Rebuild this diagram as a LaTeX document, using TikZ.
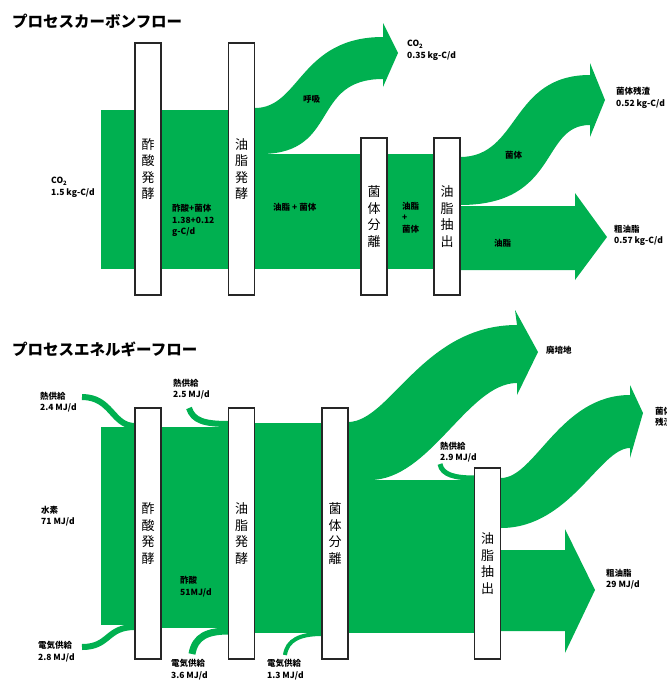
\documentclass[tikz,border=0pt]{standalone}
\usepackage{fontspec}
\setmainfont{Noto Sans CJK JP}
\definecolor{flowgreen}{RGB}{0,176,80}

\begin{document}
\begin{tikzpicture}[x=1pt, y=-1pt,
  flow/.style={fill=flowgreen, draw=none},
  feed/.style={draw=flowgreen, line width=#1},
  procbox/.style={draw=black!85, line width=1.2pt, fill=white, minimum width=26pt,
    inner sep=0pt, align=center, font=\fontsize{13}{16.5}\selectfont},
  lbl/.style={anchor=north west, inner sep=0pt, align=left,
    font=\bfseries\fontsize{8.5}{11.5}\selectfont},
  ttl/.style={anchor=north west, inner sep=0pt, font=\bfseries\fontsize{15.5}{18}\selectfont}]
		%%%%% START %%%%%
		\useasboundingbox (0,0) rectangle (667,681);
		
		%%%%% carbon flow %%%%%
		\node[ttl] (ttlC) at (12,14) {プロセスカーボンフロー};
		
		\fill[flow] (101,110) rectangle (256,269);
		\fill[flow] (250,108) -- (255,108) .. controls (300,108) and (300,37) .. (383,37)
		  -- (383,23) -- (398,53) -- (383,87) -- (383,79)
		  .. controls (310,79) and (340,153) .. (262,154) -- (250,154) -- cycle;
		\fill[flow] (250,154) rectangle (436,269);
		
		\fill[flow] (455,157) -- (460,157) .. controls (520,157) and (510,75) .. (590,75)
		  -- (590,63) -- (605,100) -- (590,137) -- (590,125)
		  .. controls (540,125) and (560,205) .. (460,205) -- (455,205) -- cycle;
		\fill[flow] (455,206) -- (575,206) -- (575,193) -- (607,237) -- (575,280)
		  -- (575,270) -- (455,270) -- cycle;
		
		\node[procbox, minimum height=252pt] (acidC) at (148,169) {酢\\酸\\発\\酵};
		\node[procbox, minimum height=252pt] (lipidC) at (241.5,169) {油\\脂\\発\\酵};
		\node[procbox, minimum height=157pt] (sepC) at (374,216.5) {菌\\体\\分\\離};
		\node[procbox, minimum height=157pt] (extC) at (447,216.5) {油\\脂\\抽\\出};
		
		\node[lbl] (co2in) at (51,177) {CO\textsubscript{2}\\1.5 kg-C/d};
		\node[lbl] (acidmix) at (172,204) {酢酸+菌体\\1.38+0.12\\g-C/d};
		\node[lbl] (lipidmix) at (273,203) {油脂 + 菌体};
		\node[lbl] (resp) at (303,95) {呼吸};
		\node[lbl] (co2out) at (407,40) {CO\textsubscript{2}\\0.35 kg-C/d};
		\node[lbl] (cellsep) at (402,202) {油脂\\+\\菌体};
		\node[lbl] (cells) at (505,151) {菌体};
		\node[lbl] (oil) at (494,239) {油脂};
		\node[lbl] (residueC) at (616,87) {菌体残渣\\0.52 kg-C/d};
		\node[lbl] (crudeC) at (614,225) {粗油脂\\0.57 kg-C/d};
		
		%%%%% energy flow %%%%%
		\node[ttl] (ttlE) at (12,342) {プロセスエネルギーフロー};
		
		\fill[flow] (101,427) rectangle (136,625);
		\fill[flow] (135,427) rectangle (229,628);
		\fill[flow] (228,423) rectangle (322,633);
		\fill[flow] (321,422) -- (348,422) .. controls (390,422) and (423,325) .. (517,325)
		  -- (515,310) -- (538,352) -- (517,395) -- (517,383)
		  .. controls (468,383) and (430,480) .. (370,480) -- (321,480) -- cycle;
		\fill[flow] (321,480) rectangle (476,633);
		
		\draw[feed=6] (82,397) .. controls (112,397) and (112,426) .. (135,426);
		\draw[feed=6] (189,408) .. controls (193,421) and (205,424) .. (229,424);
		\draw[feed=6] (82,647) .. controls (110,647) and (106,627) .. (135,627);
		\draw[feed=7] (192,654) .. controls (195,636) and (208,631) .. (229,631);
		\draw[feed=4] (285,655) .. controls (287,640) and (300,634) .. (322,634);
		\draw[feed=5] (440,464) .. controls (442,475) and (455,478) .. (475,478);
		
		\fill[flow] (495,478) -- (501,478) .. controls (535,478) and (560,395) .. (630,395)
		  -- (630,385) -- (643,413) -- (630,458) -- (630,448)
		  .. controls (600,448) and (570,528) .. (501,528) -- (495,528) -- cycle;
		\fill[flow] (495,550) -- (565,550) -- (565,529) -- (595,590) -- (565,653)
		  -- (565,631) -- (495,631) -- cycle;
		
		\node[procbox, minimum height=251pt] (acidE) at (148,533.5) {酢\\酸\\発\\酵};
		\node[procbox, minimum height=251pt] (lipidE) at (241.5,533.5) {油\\脂\\発\\酵};
		\node[procbox, minimum height=251pt] (sepE) at (335,533.5) {菌\\体\\分\\離};
		\node[procbox, minimum height=191pt] (extE) at (487.5,563.5) {油\\脂\\抽\\出};
		
		\node[lbl] (heatA) at (40,392) {熱供給\\2.4 MJ/d};
		\node[lbl] (heatB) at (173,379) {熱供給\\2.5 MJ/d};
		\node[lbl] (hydro) at (41,506) {水素\\71 MJ/d};
		\node[lbl] (acetic) at (180,576) {酢酸\\51MJ/d};
		\node[lbl] (elecA) at (38,641) {電気供給\\2.8 MJ/d};
		\node[lbl] (elecB) at (171,659) {電気供給\\3.6 MJ/d};
		\node[lbl] (elecC) at (267,659) {電気供給\\1.3 MJ/d};
		\node[lbl] (waste) at (546,346) {廃培地};
		\node[lbl] (heatC) at (440,442) {熱供給\\2.9 MJ/d};
		\node[lbl] (residueE) at (655,407) {菌体\\残渣};
		\node[lbl] (crudeE) at (606,569) {粗油脂\\29 MJ/d};
		
		%%%%% END %%%%%
\end{tikzpicture}
\end{document}
